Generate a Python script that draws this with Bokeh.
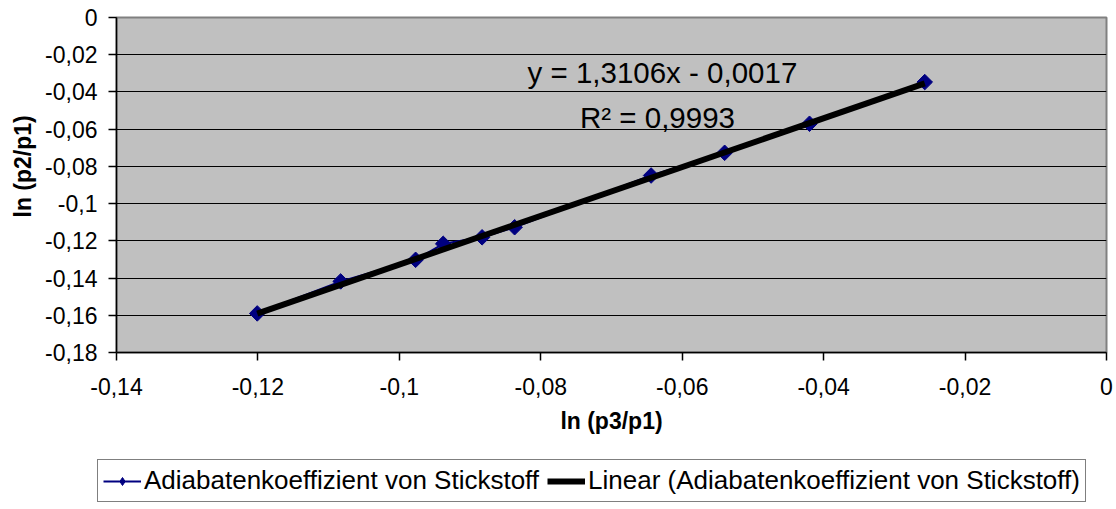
import numpy as np
from bokeh.plotting import figure
from bokeh.models import Range1d, FixedTicker, Legend, LegendItem, Label, Title
from bokeh.embed import file_html
from bokeh.resources import INLINE

# data
x_vals = [-0.1201, -0.1083, -0.0977, -0.0938, -0.0883, -0.0837, -0.0644, -0.0540, -0.0420, -0.0257]
y_vals = [-0.1590, -0.1418, -0.1302, -0.1216, -0.1181, -0.1127, -0.0849, -0.0727, -0.0571, -0.0347]
series_name = "Adiabatenkoeffizient von Stickstoff"
trend_name = "Linear (Adiabatenkoeffizient von Stickstoff)"
slope = 1.3106
intercept = -0.0017
r_squared_text = "R² = 0,9993"
equation_text = "y = 1,3106x - 0,0017"

x_ticks = [-0.14, -0.12, -0.10, -0.08, -0.06, -0.04, -0.02, 0.0]
x_tick_labels = ["-0,14", "-0,12", "-0,1", "-0,08", "-0,06", "-0,04", "-0,02", "0"]
y_ticks = [-0.18, -0.16, -0.14, -0.12, -0.10, -0.08, -0.06, -0.04, -0.02, 0.0]
y_tick_labels = ["-0,18", "-0,16", "-0,14", "-0,12", "-0,1", "-0,08", "-0,06", "-0,04", "-0,02", "0"]

FONT = "Liberation Sans"
NAVY = "#000080"

p = figure(frame_width=990, frame_height=335,
           x_range=Range1d(-0.14, 0.0), y_range=Range1d(-0.18, 0.0),
           output_backend="svg", toolbar_location=None,
           min_border_left=116, min_border_right=8, min_border_top=17, min_border_bottom=92,
           background_fill_color="#C0C0C0", border_fill_color="white",
           outline_line_color="#808080", outline_line_width=2)

for ax in (p.xaxis[0], p.yaxis[0]):
    ax.axis_line_color = "black"
    ax.axis_line_width = 1.5
    ax.major_tick_line_color = "black"
    ax.major_tick_line_width = 1.5
    ax.major_tick_out = 8
    ax.major_tick_in = 0
    ax.minor_tick_line_color = None
    ax.major_label_text_font = FONT
    ax.major_label_text_font_size = "23px"
    ax.major_label_text_color = "black"
    ax.axis_label_text_font = FONT
    ax.axis_label_text_font_size = "23px"
    ax.axis_label_text_font_style = "bold"
    ax.axis_label_text_color = "black"

p.xaxis.ticker = FixedTicker(ticks=x_ticks)
p.xaxis.major_label_overrides = {t: l for t, l in zip(x_ticks, x_tick_labels)}
p.yaxis.ticker = FixedTicker(ticks=y_ticks)
p.yaxis.major_label_overrides = {t: l for t, l in zip(y_ticks, y_tick_labels)}
p.xaxis.axis_label = "ln (p3/p1)"
p.xaxis.major_label_standoff = 17
p.yaxis.major_label_standoff = 11
p.xaxis.axis_label_standoff = 10

# y-axis title as a left-side title so it can sit above centre, like the reference
p.add_layout(Title(text="ln (p2/p1)", align="left", offset=135, standoff=13,
                   text_font=FONT, text_font_size="23px", text_font_style="bold",
                   text_color="black"), "left")

p.xgrid.visible = False
p.ygrid.ticker = FixedTicker(ticks=y_ticks[1:-1])
p.ygrid.grid_line_color = "black"
p.ygrid.grid_line_width = 1.2

p.line(x_vals, y_vals, line_color=NAVY, line_width=2)
p.scatter(x_vals, y_vals, marker="square", size=11, angle=np.pi / 4,
          fill_color=NAVY, line_color=NAVY)
tx = np.array([min(x_vals), max(x_vals)])
ty = slope * tx + intercept
p.line(tx, ty, line_color="black", line_width=6)

p.add_layout(Label(x=-0.0628, y=-0.0294, text=equation_text, text_align="center",
                   text_baseline="alphabetic", text_font=FONT, text_font_size="29.5px",
                   text_color="black"))
p.add_layout(Label(x=-0.0635, y=-0.0536, text=r_squared_text, text_align="center",
                   text_baseline="alphabetic", text_font=FONT, text_font_size="29.5px",
                   text_color="black"))

# legend strip below the chart (same series, drawn out of view so only the legend shows)
lg = figure(width=1114, height=62, x_range=Range1d(10, 11), y_range=Range1d(10, 11),
            output_backend="svg", toolbar_location=None,
            min_border_left=0, min_border_right=0, min_border_top=0, min_border_bottom=0,
            background_fill_color="white", border_fill_color="white",
            outline_line_color=None)
lg.axis.visible = False
lg.grid.visible = False
l1 = lg.line(x_vals, y_vals, line_color=NAVY, line_width=2)
l2 = lg.scatter(x_vals, y_vals, marker="diamond", size=19,
                fill_color=NAVY, line_color=NAVY)
l3 = lg.line(tx, ty, line_color="black", line_width=6)
legend = Legend(items=[LegendItem(label=series_name, renderers=[l1, l2]),
                       LegendItem(label=trend_name, renderers=[l3])],
                orientation="horizontal", location=(97, 4),
                border_line_color="black", border_line_width=1,
                background_fill_color="white", background_fill_alpha=1.0,
                label_text_font=FONT, label_text_font_size="26px",
                label_text_color="black",
                glyph_width=38, glyph_height=20, label_standoff=3,
                spacing=8, padding=5, margin=0)
lg.add_layout(legend)

open("out.html", "w").write(file_html([p, lg], INLINE))
